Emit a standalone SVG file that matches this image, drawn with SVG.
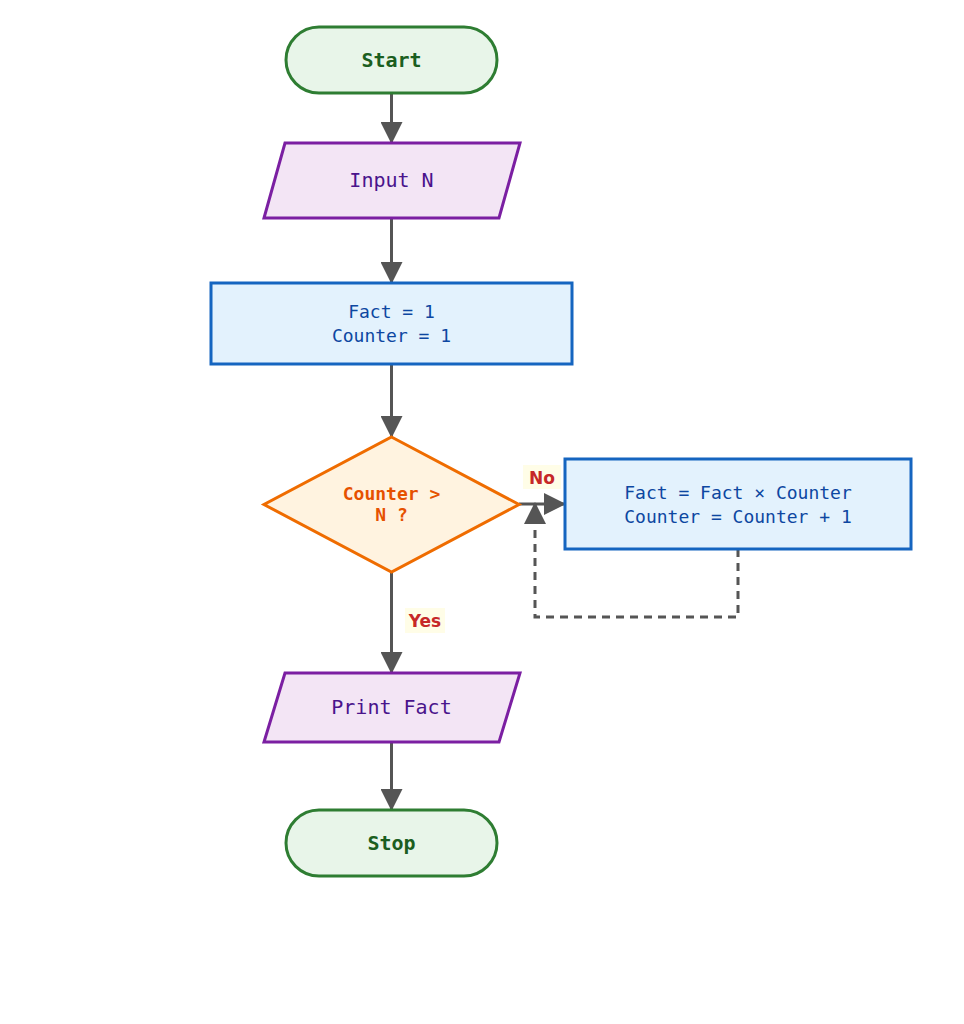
<svg xmlns="http://www.w3.org/2000/svg" width="964" height="1024" viewBox="0 0 964 1024">
<defs>
<marker id="ah" markerUnits="userSpaceOnUse" markerWidth="22" markerHeight="22" viewBox="0 0 22 22" refX="21" refY="11" orient="auto">
<path d="M0,0 L22,11 L0,22 Z" fill="#555"/>
</marker>
<style>
.term{fill:#e8f5e9;stroke:#2e7d32;stroke-width:3}
.io{fill:#f3e5f5;stroke:#7b1fa2;stroke-width:3}
.proc{fill:#e3f2fd;stroke:#1565c0;stroke-width:3}
.dec{fill:#fff3e0;stroke:#ef6c00;stroke-width:3}
text{font-family:"DejaVu Sans Mono",monospace;text-anchor:middle}
.tt{font-size:20px;font-weight:bold;fill:#1b5e20}
.it{font-size:20px;fill:#4a148c}
.pt{font-size:18px;fill:#0d47a1}
.dt{font-size:18px;font-weight:bold;fill:#e65100}
.lbl{font-family:"DejaVu Sans",sans-serif;font-size:17px;font-weight:bold;fill:#c62828}
.lbg{fill:#fffde7}
.c{fill:none;stroke:#555;stroke-width:3}
.dash{stroke-dasharray:8,6}
</style>
</defs>
<rect width="964" height="1024" fill="#ffffff"/>
<g id="connectors">
<line class="c" x1="391.5" y1="93" x2="391.5" y2="143" marker-end="url(#ah)"/>
<line class="c" x1="391.5" y1="218" x2="391.5" y2="283" marker-end="url(#ah)"/>
<line class="c" x1="391.5" y1="364" x2="391.5" y2="437" marker-end="url(#ah)"/>
<line class="c" x1="519" y1="504" x2="565" y2="504" marker-end="url(#ah)"/>
<line class="c" x1="391.5" y1="572" x2="391.5" y2="673" marker-end="url(#ah)"/>
<line class="c" x1="391.5" y1="742" x2="391.5" y2="810" marker-end="url(#ah)"/>
<polyline class="c dash" points="738,549 738,617 535,617 535,503" marker-end="url(#ah)"/>
<rect class="lbg" x="523" y="465" width="38" height="24"/>
<text class="lbl" x="542" y="484">No</text>
<rect class="lbg" x="405" y="608" width="40" height="25"/>
<text class="lbl" x="425" y="627">Yes</text>
</g>
<g id="start">
<rect class="term" x="286" y="27" width="211" height="66" rx="33" ry="33"/>
<text class="tt" x="391.5" y="67">Start</text>
</g>
<g id="input">
<polygon class="io" points="285,143 520,143 499,218 264,218"/>
<text class="it" x="391.5" y="187">Input N</text>
</g>
<g id="init">
<rect class="proc" x="211" y="283" width="361" height="81"/>
<text class="pt" x="391.5" y="318">Fact = 1</text>
<text class="pt" x="391.5" y="342">Counter = 1</text>
</g>
<g id="decision">
<polygon class="dec" points="391.5,437 519,504.5 391.5,572 264,504.5"/>
<text class="dt" x="391.5" y="500">Counter &gt;</text>
<text class="dt" x="391.5" y="521">N ?</text>
</g>
<g id="update">
<rect class="proc" x="565" y="459" width="346" height="90"/>
<text class="pt" x="738" y="499">Fact = Fact × Counter</text>
<text class="pt" x="738" y="523">Counter = Counter + 1</text>
</g>
<g id="print">
<polygon class="io" points="285,673 520,673 499,742 264,742"/>
<text class="it" x="391.5" y="714">Print Fact</text>
</g>
<g id="stop">
<rect class="term" x="286" y="810" width="211" height="66" rx="33" ry="33"/>
<text class="tt" x="391.5" y="850">Stop</text>
</g>
</svg>
